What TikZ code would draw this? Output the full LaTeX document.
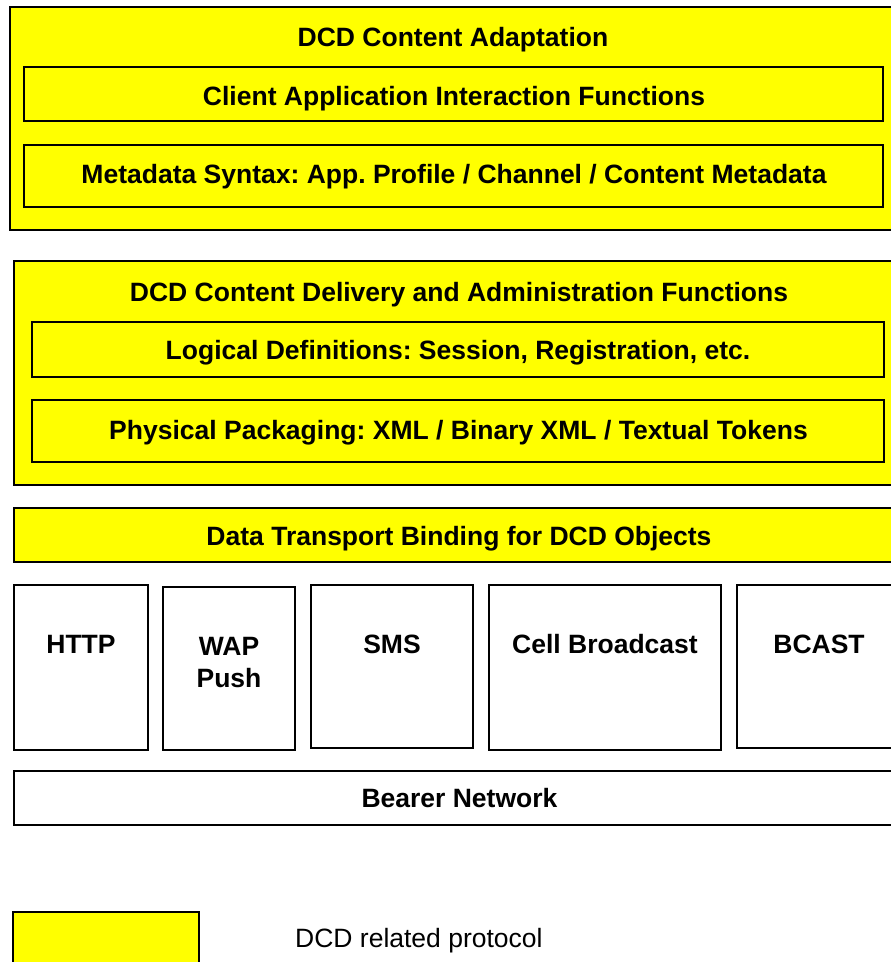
\documentclass[tikz,border=0pt]{standalone}
\usepackage{fontspec}
\setmainfont{Liberation Sans}
\definecolor{dcdyellow}{RGB}{255,255,0}
\frenchspacing
\begin{document}
\frenchspacing
\begin{tikzpicture}[x=1pt,y=-1pt,
  box/.style={draw=black, line width=1.4pt, rectangle, inner sep=0pt, outer sep=0pt, anchor=north west},
  ybox/.style={box, fill=dcdyellow},
  wbox/.style={box, fill=white},
  lbl/.style={font=\fontsize{26.5}{32}\selectfont\bfseries\frenchspacing, anchor=base, inner sep=0pt},
  legtext/.style={font=\fontsize{26.5}{32}\selectfont, anchor=base west, inner sep=0pt},
]
\useasboundingbox (0,0) rectangle (891,962);
\clip (0,0) rectangle (891,962);
\fill[white] (0,0) rectangle (891,962);

% DCD Content Adaptation
\node[ybox, minimum width=887pt, minimum height=223pt] (adapt) at (10,7) {};
\node[ybox, minimum width=859pt, minimum height=54pt] (client) at (24,67) {};
\node[ybox, minimum width=859pt, minimum height=62pt] (meta) at (24,145) {};
\node[lbl] (adaptT) at (453,46) {DCD Content Adaptation};
\node[lbl] (clientT) at (454,105.5) {Client Application Interaction Functions};
\node[lbl] (metaT) at (454,183) {Metadata Syntax: App. Profile / Channel / Content Metadata};

% DCD Content Delivery
\node[ybox, minimum width=888pt, minimum height=224pt] (deliv) at (14,261) {};
\node[ybox, minimum width=852pt, minimum height=55pt] (logic) at (32,322) {};
\node[ybox, minimum width=852pt, minimum height=62pt] (phys) at (32,400) {};
\node[lbl] (delivT) at (459,301.5) {DCD Content Delivery and Administration Functions};
\node[lbl] (logicT) at (458,359.5) {Logical Definitions: Session, Registration, etc.};
\node[lbl] (physT) at (458.5,439.5) {Physical Packaging: XML / Binary XML / Textual Tokens};

% Data Transport Binding
\node[ybox, minimum width=890pt, minimum height=54pt] (bind) at (14,508) {};
\node[lbl] (bindT) at (459,545) {Data Transport Binding for DCD Objects};

% Transport protocols
\node[wbox, minimum width=134pt, minimum height=165pt] (http) at (14,585) {};
\node[wbox, minimum width=132pt, minimum height=163pt] (wap) at (163,587) {};
\node[wbox, minimum width=162pt, minimum height=163pt] (sms) at (311,585) {};
\node[wbox, minimum width=232pt, minimum height=165pt] (cell) at (489,585) {};
\node[wbox, minimum width=165pt, minimum height=163pt] (bcast) at (737,585) {};
\node[lbl] (httpT) at (81,653) {HTTP};
\node[lbl] (wapT) at (229,655) {WAP};
\node[lbl] (pushT) at (229,687) {Push};
\node[lbl] (smsT) at (392,653) {SMS};
\node[lbl] (cellT) at (605,653) {Cell Broadcast};
\node[lbl] (bcastT) at (819,653) {BCAST};

% Bearer Network
\node[wbox, minimum width=890pt, minimum height=54pt] (bearer) at (14,771) {};
\node[lbl] (bearerT) at (459.5,807) {Bearer Network};

% Legend
\node[ybox, minimum width=186pt, minimum height=70pt] (legend) at (13,912) {};
\node[legtext] (legendT) at (295,947) {DCD related protocol};
\end{tikzpicture}
\end{document}
